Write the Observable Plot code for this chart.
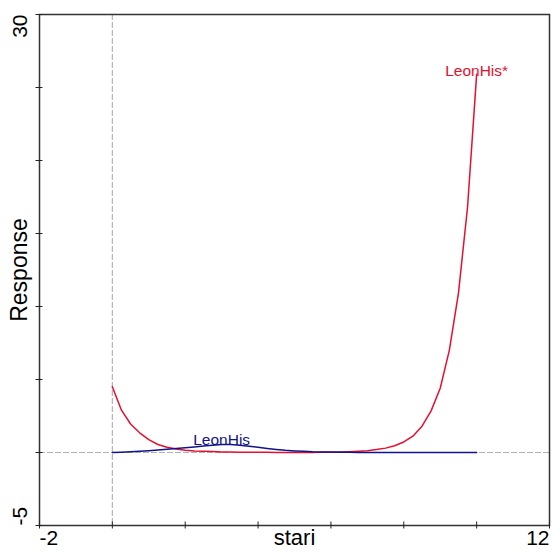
<!DOCTYPE html>
<html>
<head>
<meta charset="utf-8">
<script src="https://cdn.jsdelivr.net/npm/d3@7"></script>
<script src="https://cdn.jsdelivr.net/npm/@observablehq/plot@0.6"></script>
<style>
  html, body { margin: 0; padding: 0; background: #fff; }
</style>
</head>
<body>
<div id="chart"></div>
<script>
// ---- data ----
const stari = [0, 0.25, 0.5, 0.75, 1, 1.25, 1.5, 1.75, 2, 2.25, 2.5, 2.75, 3, 3.25, 3.5, 3.75,
  4, 4.25, 4.5, 4.75, 5, 5.25, 5.5, 5.75, 6, 6.25, 6.5, 6.75, 7, 7.25, 7.5, 7.75,
  8, 8.25, 8.5, 8.75, 9, 9.25, 9.5, 9.75, 10];
const leonHisStar = [4.5, 2.9, 1.95, 1.35, 0.88, 0.55, 0.36, 0.24, 0.16, 0.11, 0.08, 0.06, 0.04, 0.03, 0.02, 0.015,
  0.01, 0.01, 0.005, 0.005, 0.004, 0.005, 0.008, 0.012, 0.02, 0.03, 0.05, 0.08, 0.12, 0.2, 0.3, 0.46,
  0.72, 1.12, 1.8, 2.85, 4.4, 7.0, 10.9, 16.8, 25.9];
const leonHis = [0, 0.02, 0.05, 0.08, 0.12, 0.17, 0.22, 0.28, 0.33, 0.38, 0.44, 0.5, 0.54, 0.54, 0.5, 0.43,
  0.36, 0.28, 0.21, 0.15, 0.11, 0.08, 0.05, 0.04, 0.03, 0.02, 0.01, 0.005, 0, 0, 0, 0,
  0, 0, 0, 0, 0, 0, 0, 0, 0];
const seriesNames = ["LeonHis*", "LeonHis"];
const seriesColors = ["#e5102f", "#12128a"];
const xTicks = [-2, 0, 2, 4, 6, 8, 10, 12];
const yTicks = [-5, 0, 5, 10, 15, 20, 25, 30];
const xTickLabels = [-2, 12];
const yTickLabels = [-5, 30];
const xLabel = "stari";
const yLabel = "Response";

// ---- build table ----
const rows = [];
stari.forEach((s, i) => {
  rows.push({stari: s, response: leonHisStar[i], series: seriesNames[0]});
  rows.push({stari: s, response: leonHis[i], series: seriesNames[1]});
});
const redLabel = [{stari: stari[stari.length - 1], response: leonHisStar[leonHisStar.length - 1], series: seriesNames[0]}];
const blueMax = d3.maxIndex(leonHis);
const blueLabel = [{stari: stari[blueMax], response: leonHis[blueMax], series: seriesNames[1]}];

const font = "'Liberation Sans', Arial, sans-serif";

const chart = Plot.plot({
  width: 552,
  height: 554,
  marginLeft: 39,
  marginRight: 3,
  marginTop: 14,
  marginBottom: 29,
  style: {fontFamily: font, fontSize: "21px", background: "#fff", color: "#000"},
  x: {domain: [-2, 12], axis: null},
  y: {domain: [-5, 30], axis: null},
  color: {domain: seriesNames, range: seriesColors},
  marks: [
    Plot.ruleY([0], {stroke: "#b4b4b4", strokeWidth: 1.2, strokeDasharray: "6,2"}),
    Plot.ruleX([0], {stroke: "#b4b4b4", strokeWidth: 1.2, strokeDasharray: "6,2"}),
    Plot.line(rows, {x: "stari", y: "response", z: "series", stroke: "series", strokeWidth: 1.5}),
    Plot.text(redLabel, {x: "stari", y: "response", text: "series", fill: "series", fontSize: 15.5, lineAnchor: "bottom", dy: 2}),
    Plot.text(blueLabel, {x: "stari", y: "response", text: "series", fill: "series", fontSize: 15.5, lineAnchor: "bottom", dy: 0}),
    Plot.frame({stroke: "#333", strokeWidth: 1.5}),
    Plot.axisX({ticks: xTicks, tickSize: 7, dy: -3.5, tickFormat: () => "", label: null, stroke: "#222"}),
    Plot.axisY({ticks: yTicks, tickSize: 7, dx: 3.5, tickFormat: () => "", label: null, stroke: "#222"}),
    Plot.text([xTickLabels[0]], {x: d => d, frameAnchor: "bottom", textAnchor: "start", dy: 19, text: d => String(d)}),
    Plot.text([xTickLabels[1]], {x: d => d, frameAnchor: "bottom", textAnchor: "end", dy: 19, text: d => String(d)}),
    Plot.text([yTickLabels[1]], {y: d => d, frameAnchor: "left", textAnchor: "end", rotate: -90, dx: -19.5, text: d => String(d)}),
    Plot.text([yTickLabels[0]], {y: d => d, frameAnchor: "left", textAnchor: "start", rotate: -90, dx: -19.5, text: d => String(d)}),
    Plot.text([xLabel], {frameAnchor: "bottom", textAnchor: "middle", dy: 19, fontSize: 22, text: d => d}),
    Plot.text([yLabel], {frameAnchor: "left", textAnchor: "middle", rotate: -90, dx: -19.5, fontSize: 23, text: d => d})
  ]
});
document.getElementById("chart").appendChild(chart);
</script>
</body>
</html>
